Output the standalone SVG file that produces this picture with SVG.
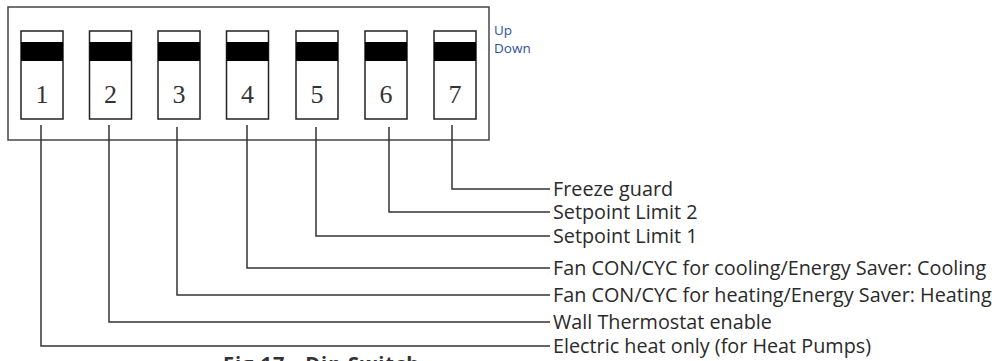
<svg xmlns="http://www.w3.org/2000/svg" width="997" height="361" viewBox="0 0 997 361">
<style>
.box{fill:none;stroke:#444;stroke-width:1.5}
.sw{fill:#fff;stroke:#222;stroke-width:1.5}
.band{fill:#000}
.num{font-family:"Liberation Serif",serif;font-size:26px;fill:#333;text-anchor:middle}
.ud{font-family:"Open Sans","Liberation Sans",sans-serif;font-size:13.5px;fill:#2f4f9f}
.lbl{font-family:"Open Sans","Liberation Sans",sans-serif;font-size:19.8px;fill:#2a2a2a}
.cap{font-family:"Open Sans","Liberation Sans",sans-serif;font-size:20px;font-weight:bold;fill:#333;letter-spacing:1px}
.ln{fill:none;stroke:#333;stroke-width:1.5}
</style>
<rect width="997" height="361" fill="#fff"/>
<g id="housing">
<rect class="box" x="8" y="7" width="481" height="133"/>
<text class="ud" x="494" y="35">Up</text>
<text class="ud" x="494" y="53">Down</text>
</g>
<g id="sw1"><rect class="sw" x="21" y="31" width="42" height="88"/><rect class="band" x="21" y="42" width="42" height="19"/><text class="num" x="42" y="103">1</text></g>
<g id="sw2"><rect class="sw" x="89.5" y="31" width="42" height="88"/><rect class="band" x="89.5" y="42" width="42" height="19"/><text class="num" x="110.5" y="103">2</text></g>
<g id="sw3"><rect class="sw" x="158" y="31" width="42" height="88"/><rect class="band" x="158" y="42" width="42" height="19"/><text class="num" x="179" y="103">3</text></g>
<g id="sw4"><rect class="sw" x="226.5" y="31" width="42" height="88"/><rect class="band" x="226.5" y="42" width="42" height="19"/><text class="num" x="247.5" y="103">4</text></g>
<g id="sw5"><rect class="sw" x="296" y="31" width="42" height="88"/><rect class="band" x="296" y="42" width="42" height="19"/><text class="num" x="317" y="103">5</text></g>
<g id="sw6"><rect class="sw" x="365" y="31" width="42" height="88"/><rect class="band" x="365" y="42" width="42" height="19"/><text class="num" x="386" y="103">6</text></g>
<g id="sw7"><rect class="sw" x="434" y="31" width="42" height="88"/><rect class="band" x="434" y="42" width="42" height="19"/><text class="num" x="455" y="103">7</text></g>
<g id="connectors">
<path class="ln" d="M452,125 V189 H550"/>
<path class="ln" d="M389,127 V212 H550"/>
<path class="ln" d="M316,127 V236 H550"/>
<path class="ln" d="M247,125 V268 H550"/>
<path class="ln" d="M177,127 V295 H550"/>
<path class="ln" d="M109,125 V322 H550"/>
<path class="ln" d="M41,125 V346 H550"/>
</g>
<g id="labels">
<text class="lbl" x="553" y="195.5">Freeze guard</text>
<text class="lbl" x="553" y="219">Setpoint Limit 2</text>
<text class="lbl" x="553" y="243">Setpoint Limit 1</text>
<text class="lbl" x="553" y="275">Fan CON/CYC for cooling/Energy Saver: Cooling</text>
<text class="lbl" x="553" y="302">Fan CON/CYC for heating/Energy Saver: Heating</text>
<text class="lbl" x="553" y="329">Wall Thermostat enable</text>
<text class="lbl" x="553" y="353">Electric heat only (for Heat Pumps)</text>
</g>
<text class="cap" x="223" y="371">Fig 17 - Dip Switch</text>
</svg>
